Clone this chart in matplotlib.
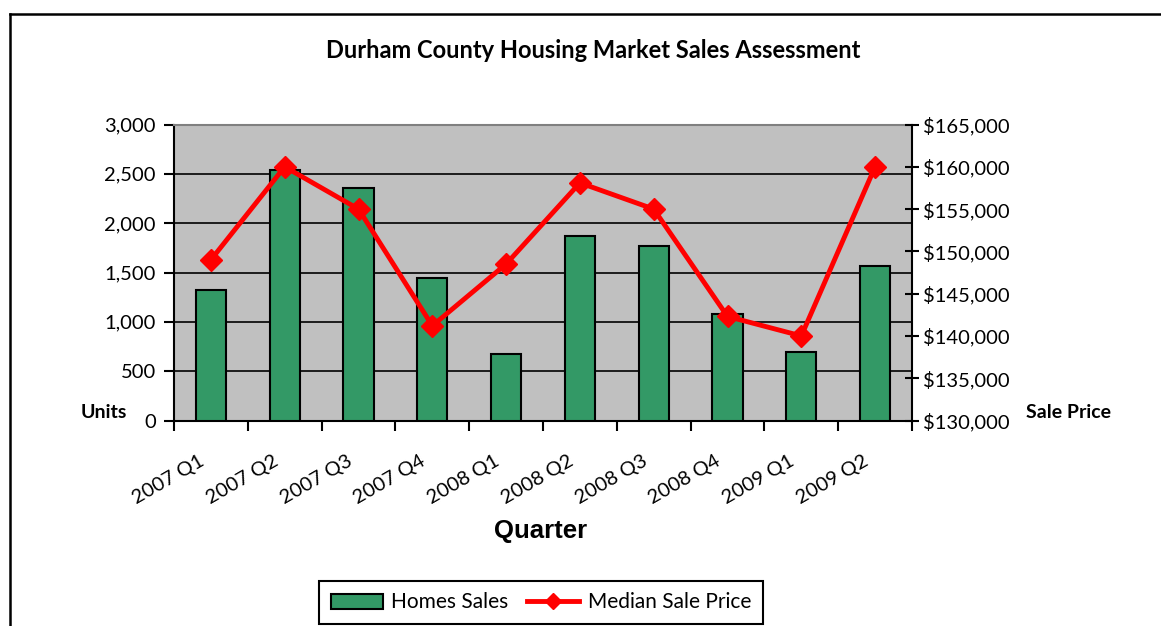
import matplotlib
matplotlib.use("Agg")
import matplotlib.pyplot as plt
from matplotlib.lines import Line2D
from matplotlib.patches import Patch
from matplotlib.ticker import FuncFormatter, FixedLocator
from matplotlib.transforms import ScaledTranslation

# ---- data ----
quarters = ["2007 Q1", "2007 Q2", "2007 Q3", "2007 Q4", "2008 Q1",
            "2008 Q2", "2008 Q3", "2008 Q4", "2009 Q1", "2009 Q2"]
home_sales = [1320, 2540, 2360, 1440, 670, 1870, 1770, 1080, 695, 1565]
median_price = [149000, 160000, 155000, 141200, 148500,
                158100, 155000, 142300, 140000, 160000]
units_ticks = [0, 500, 1000, 1500, 2000, 2500, 3000]
price_ticks = [130000, 135000, 140000, 145000, 150000, 155000, 160000, 165000]

W, H, DPI = 1161, 626, 100
fig = plt.figure(figsize=(W / DPI, H / DPI), dpi=DPI)
fig.patch.set_facecolor("white")

FONT = "Lato"
plt.rcParams["font.family"] = [FONT, "DejaVu Sans"]

left, right = 174 / W, 912 / W
bottom, top = 1 - 420.5 / H, 1 - 124.5 / H
ax = fig.add_axes([left, bottom, right - left, top - bottom])
ax.set_facecolor("#C0C0C0")

x = list(range(len(quarters)))
ax.bar(x, home_sales, width=0.41, color="#339966", edgecolor="black",
       linewidth=1.5, zorder=3)
ax.set_xlim(-0.5, len(quarters) - 0.5)
ax.set_ylim(units_ticks[0], units_ticks[-1])
ax.yaxis.set_major_locator(FixedLocator(units_ticks))
ax.yaxis.set_major_formatter(FuncFormatter(lambda v, p: f"{int(v):,}"))
ax.grid(axis="y", color="black", linewidth=1.2, zorder=1)
ax.set_axisbelow(True)
ax.tick_params(axis="y", direction="out", length=7, width=1.5,
               labelsize=14.5, pad=6)

# x ticks: marks at category boundaries, labels at centers
ax.xaxis.set_major_locator(FixedLocator([i - 0.5 for i in range(len(quarters) + 1)]))
ax.xaxis.set_major_formatter(FuncFormatter(lambda v, p: ""))
ax.xaxis.set_minor_locator(FixedLocator(x))
ax.set_xticklabels(quarters, minor=True)
ax.tick_params(axis="x", which="major", direction="out", length=7, width=1.5)
ax.tick_params(axis="x", which="minor", length=0, pad=28, labelsize=14.5)
for lab in ax.get_xticklabels(minor=True):
    lab.set_rotation(30)
    lab.set_rotation_mode("anchor")
    lab.set_ha("right")
    lab.set_va("center")
    lab.set_transform(lab.get_transform() +
                      ScaledTranslation(-8 / DPI, 0, fig.dpi_scale_trans))

for s in ["left", "bottom"]:
    ax.spines[s].set_color("black")
    ax.spines[s].set_linewidth(1.5)
ax.spines["top"].set_color("#808080")
ax.spines["top"].set_linewidth(1.5)
ax.spines["right"].set_visible(False)

ax2 = ax.twinx()
ax2.plot(x, median_price, color="#FF0000", linewidth=3.5, marker="D",
         markersize=11, markerfacecolor="#FF0000", markeredgecolor="#FF0000",
         zorder=5)
ax2.set_ylim(price_ticks[0], price_ticks[-1])
ax2.yaxis.set_major_locator(FixedLocator(price_ticks))
ax2.yaxis.set_major_formatter(FuncFormatter(lambda v, p: f"${int(v):,}"))
ax2.tick_params(axis="y", direction="inout", length=10, width=1.5,
                labelsize=14.5, pad=3)
ax2.spines["right"].set_color("black")
ax2.spines["right"].set_linewidth(1.5)
for s in ["top", "left", "bottom"]:
    ax2.spines[s].set_visible(False)

# titles and axis labels
fig.text(593 / W, 1 - 50 / H, "Durham County Housing Market Sales Assessment",
         ha="center", va="center", fontsize=17, fontweight="bold")
fig.text(541 / W, 1 - 531 / H, "Quarter", ha="center", va="center",
         fontsize=18.5, fontweight="bold", family="Liberation Sans")
fig.text(127 / W, 1 - 413 / H, "Units", ha="right", va="center",
         fontsize=14, fontweight="bold")
fig.text(1026 / W, 1 - 413 / H, "Sale Price", ha="left", va="center",
         fontsize=14, fontweight="bold")

# legend
handles = [Patch(facecolor="#339966", edgecolor="black", linewidth=1.5,
                 label="Homes Sales"),
           Line2D([0], [0], color="#FF0000", linewidth=3.5, marker="D",
                  markersize=8, label="Median Sale Price")]
leg = fig.legend(handles=handles, loc="center",
                 bbox_to_anchor=(541 / W, 1 - 602.5 / H), ncol=2,
                 fontsize=15, frameon=True, fancybox=False,
                 edgecolor="black", framealpha=1, handlelength=2.5,
                 handletextpad=0.4, columnspacing=0.9, borderpad=0.55)
leg.get_frame().set_linewidth(1.5)

# outer frame
fx, fy = 9.5 / W, 1 - 14 / H
fig.add_artist(Line2D([fx, fx], [0, fy], color="black", linewidth=1.8))
fig.add_artist(Line2D([fx, 1], [fy, fy], color="black", linewidth=1.8))

fig.savefig("out.png", dpi=DPI)
